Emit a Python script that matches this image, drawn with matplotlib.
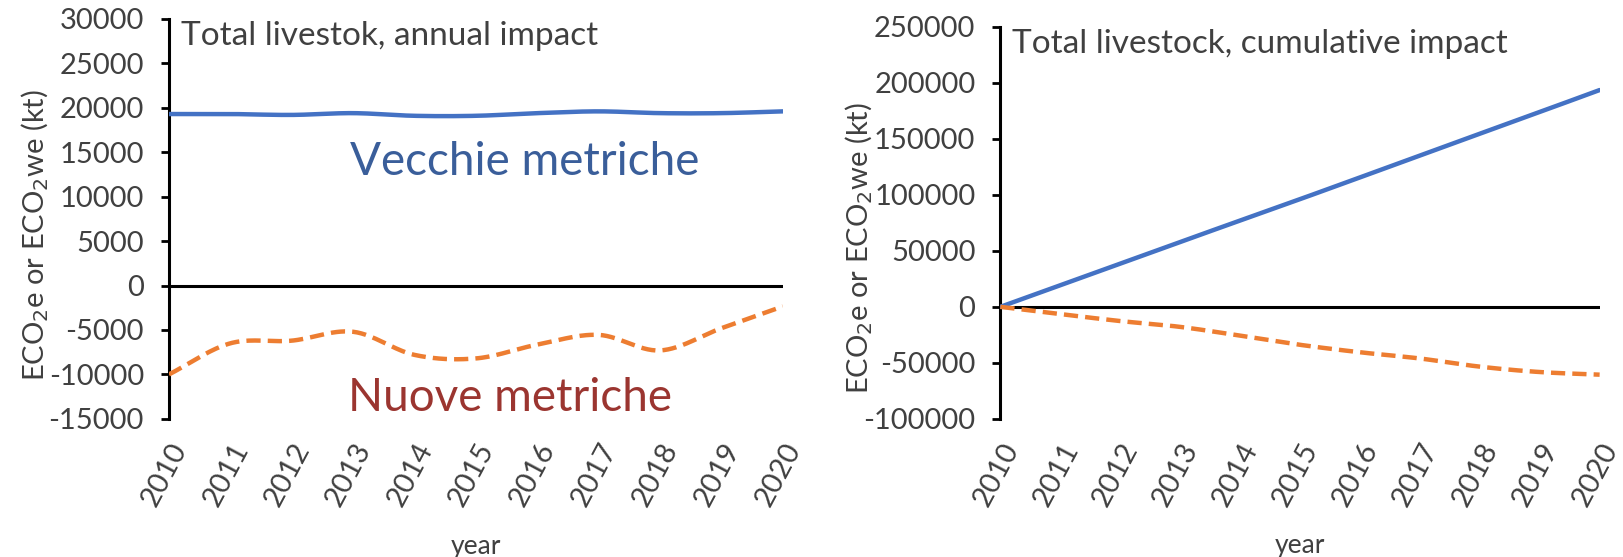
import numpy as np
import matplotlib
matplotlib.use("Agg")
import matplotlib.pyplot as plt

plt.rcParams['font.family'] = ['Lato', 'DejaVu Sans']

years = [2010, 2011, 2012, 2013, 2014, 2015, 2016, 2017, 2018, 2019, 2020]
year_labels = [str(y) for y in years]

annual_old = [19300, 19300, 19200, 19400, 19100, 19100, 19400, 19600, 19400, 19400, 19600]
annual_new = [-10000, -6500, -6200, -5200, -7800, -8200, -6650, -5550, -7300, -4800, -2350]

cumul_old = [0, 19300, 38500, 57900, 77000, 96100, 115500, 135100, 154500, 173900, 193500]
cumul_new = [0, -6500, -12700, -17900, -25700, -33900, -40550, -46100, -53400, -58200, -60550]

annual_ticks = [-15000, -10000, -5000, 0, 5000, 10000, 15000, 20000, 25000, 30000]
cumul_ticks = [-100000, -50000, 0, 50000, 100000, 150000, 200000, 250000]

BLUE = '#4472C4'
ORANGE = '#ED7D31'
TEXT = '#404040'


def smooth(x, y, n=30):
    """Catmull-Rom style smoothing, like spreadsheet 'smoothed line'."""
    x = np.asarray(x, float)
    y = np.asarray(y, float)
    px = np.concatenate([[2 * x[0] - x[1]], x, [2 * x[-1] - x[-2]]])
    py = np.concatenate([[2 * y[0] - y[1]], y, [2 * y[-1] - y[-2]]])
    xs, ys = [], []
    for i in range(1, len(px) - 2):
        t = np.linspace(0, 1, n, endpoint=False)
        for arr, out in ((px, xs), (py, ys)):
            p0, p1, p2, p3 = arr[i - 1], arr[i], arr[i + 1], arr[i + 2]
            out.extend(0.5 * ((2 * p1) + (-p0 + p2) * t
                              + (2 * p0 - 5 * p1 + 4 * p2 - p3) * t ** 2
                              + (-p0 + 3 * p1 - 3 * p2 + p3) * t ** 3))
    xs.append(x[-1])
    ys.append(y[-1])
    return np.array(xs), np.array(ys)


fig = plt.figure(figsize=(16.24, 5.57), dpi=100)
ax1 = fig.add_axes([0.104, 0.248, 0.378, 0.718])
ax2 = fig.add_axes([0.616, 0.248, 0.369, 0.704])


def style(ax, ticks, title, ylab_xy, xlab_y):
    ax.set_xlim(years[0], years[-1])
    ax.set_ylim(ticks[0], ticks[-1])
    ax.set_yticks(ticks)
    ax.set_yticklabels([str(t) for t in ticks])
    ax.set_xticks(years)
    ax.set_xticklabels(year_labels, rotation=62, ha='right', rotation_mode='anchor')
    for s in ('top', 'right', 'bottom'):
        ax.spines[s].set_visible(False)
    ax.spines['left'].set_linewidth(2.2)
    ax.spines['left'].set_color('black')
    ax.tick_params(axis='y', length=6, width=2, direction='out', labelsize=21,
                   labelcolor=TEXT, pad=12)
    ax.tick_params(axis='x', length=0, labelsize=21, labelcolor=TEXT, pad=14)
    ax.axhline(0, color='black', lw=2.2, zorder=2)
    ax.set_xlabel('year', fontsize=19, color=TEXT, va='center')
    ax.xaxis.set_label_coords(0.5, xlab_y)
    ax.set_ylabel(r'ECO$_2$e or ECO$_2$we (kt)', fontsize=21, color=TEXT, va='center')
    ax.yaxis.set_label_coords(*ylab_xy)
    ax.text(0.02, 0.995, title, transform=ax.transAxes, fontsize=24,
            color=TEXT, va='top', ha='left')


style(ax1, annual_ticks, 'Total livestok, annual impact', (-0.217, 0.46), -0.318)
style(ax2, cumul_ticks, 'Total livestock, cumulative impact', (-0.235, 0.435), -0.324)

sx, sy = smooth(years, annual_old)
ax1.plot(sx, sy, color=BLUE, lw=3.2, zorder=3, solid_capstyle='round')
sx, sy = smooth(years, annual_new)
ax1.plot(sx, sy, color=ORANGE, lw=3.2, ls=(0, (3.2, 1.6)), zorder=3)

sx, sy = smooth(years, cumul_old)
ax2.plot(sx, sy, color=BLUE, lw=3.2, zorder=3, solid_capstyle='round')
sx, sy = smooth(years, cumul_new)
ax2.plot(sx, sy, color=ORANGE, lw=3.2, ls=(0, (3.2, 1.6)), zorder=3)

ax1.text(2015.8, 13900, 'Vecchie metriche', fontsize=33, color='#3A5E9A',
         ha='center', va='center')
ax1.text(2015.55, -12600, 'Nuove metriche', fontsize=33, color='#9B3530',
         ha='center', va='center')

fig.savefig('out.png', dpi=100)
